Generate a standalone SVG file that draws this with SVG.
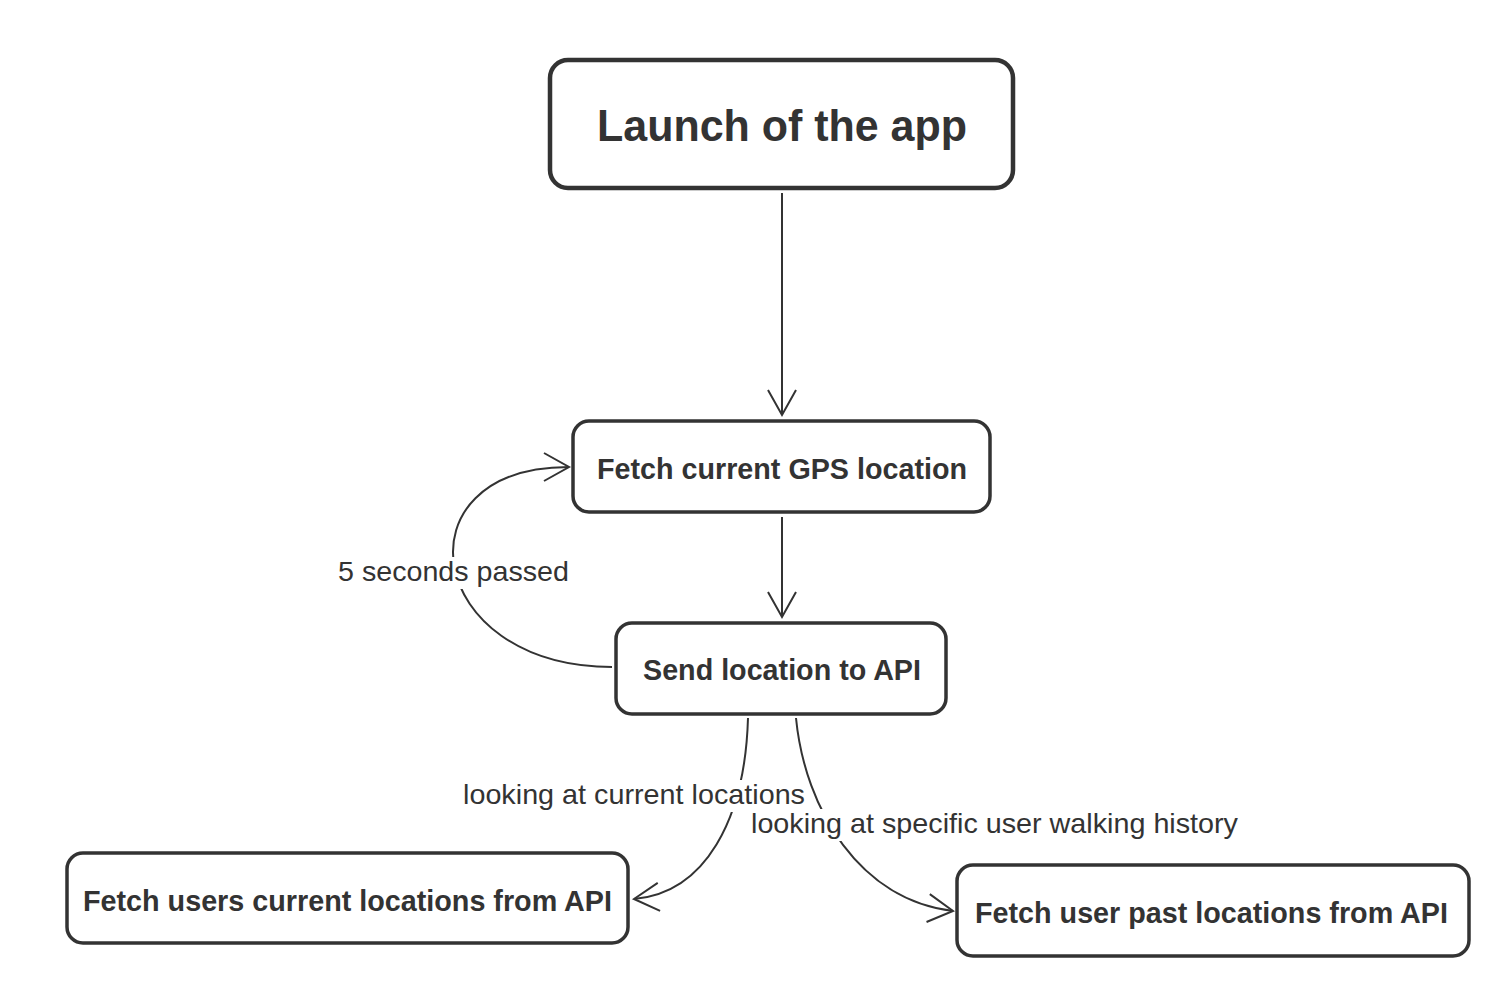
<svg xmlns="http://www.w3.org/2000/svg" width="1510" height="996" viewBox="0 0 1510 996">
<style>
.node rect{fill:#fff;stroke:#333;stroke-width:3.5}
.node text{font-family:"Liberation Sans",Arial,sans-serif;font-weight:bold;fill:#333;text-anchor:middle}
.edge{fill:none;stroke:#333;stroke-width:2}
.lbl text{font-family:"Liberation Sans",Arial,sans-serif;font-size:28px;fill:#333;text-anchor:middle}
.lbl rect{fill:#fff}
</style>
<defs>
<marker id="arr" markerUnits="userSpaceOnUse" markerWidth="40" markerHeight="40" viewBox="-30 -20 40 40" refX="0" refY="0" orient="auto">
<path d="M-25,-14 L0,0 L-25,14" fill="none" stroke="#333" stroke-width="2"/>
</marker>
</defs>
<rect width="1510" height="996" fill="#fff"/>
<g id="connectors">
<path class="edge" d="M782,193 L782,415" marker-end="url(#arr)"/>
<path class="edge" d="M782,517 L782,617" marker-end="url(#arr)"/>
<path class="edge" d="M612,667 C424,667 394,467 569,467" marker-end="url(#arr)"/>
<path class="edge" d="M748,718 C745,820 705,893 634,899" marker-end="url(#arr)"/>
<path class="edge" d="M796,718 C805,810 860,900 953,911" marker-end="url(#arr)"/>
</g>
<g id="labels" class="lbl">
<g id="lbl-loop"><rect x="336" y="557" width="236" height="32"/><text x="453.5" y="581" textLength="231" lengthAdjust="spacingAndGlyphs">5 seconds passed</text></g>
<g id="lbl-current"><rect x="461" y="780" width="346" height="32"/><text x="634" y="804" textLength="342" lengthAdjust="spacingAndGlyphs">looking at current locations</text></g>
<g id="lbl-history"><rect x="749" y="809" width="492" height="32"/><text x="994.5" y="833" textLength="487" lengthAdjust="spacingAndGlyphs">looking at specific user walking history</text></g>
</g>
<g id="node-launch" class="node">
<rect x="550" y="60" width="463" height="128" rx="18" style="stroke-width:4.5"/>
<text x="782" y="141" font-size="45" textLength="370" lengthAdjust="spacingAndGlyphs">Launch of the app</text>
</g>
<g id="node-gps" class="node">
<rect x="573" y="421" width="417" height="91" rx="16"/>
<text x="782" y="479" font-size="29" textLength="370" lengthAdjust="spacingAndGlyphs">Fetch current GPS location</text>
</g>
<g id="node-send" class="node">
<rect x="616" y="623" width="330" height="91" rx="16"/>
<text x="782" y="680" font-size="29" textLength="278" lengthAdjust="spacingAndGlyphs">Send location to API</text>
</g>
<g id="node-current" class="node">
<rect x="67" y="853" width="561" height="90" rx="16"/>
<text x="347.5" y="911" font-size="29" textLength="529" lengthAdjust="spacingAndGlyphs">Fetch users current locations from API</text>
</g>
<g id="node-past" class="node">
<rect x="957" y="865" width="512" height="91" rx="16"/>
<text x="1211.5" y="923" font-size="29" textLength="473" lengthAdjust="spacingAndGlyphs">Fetch user past locations from API</text>
</g>
</svg>
